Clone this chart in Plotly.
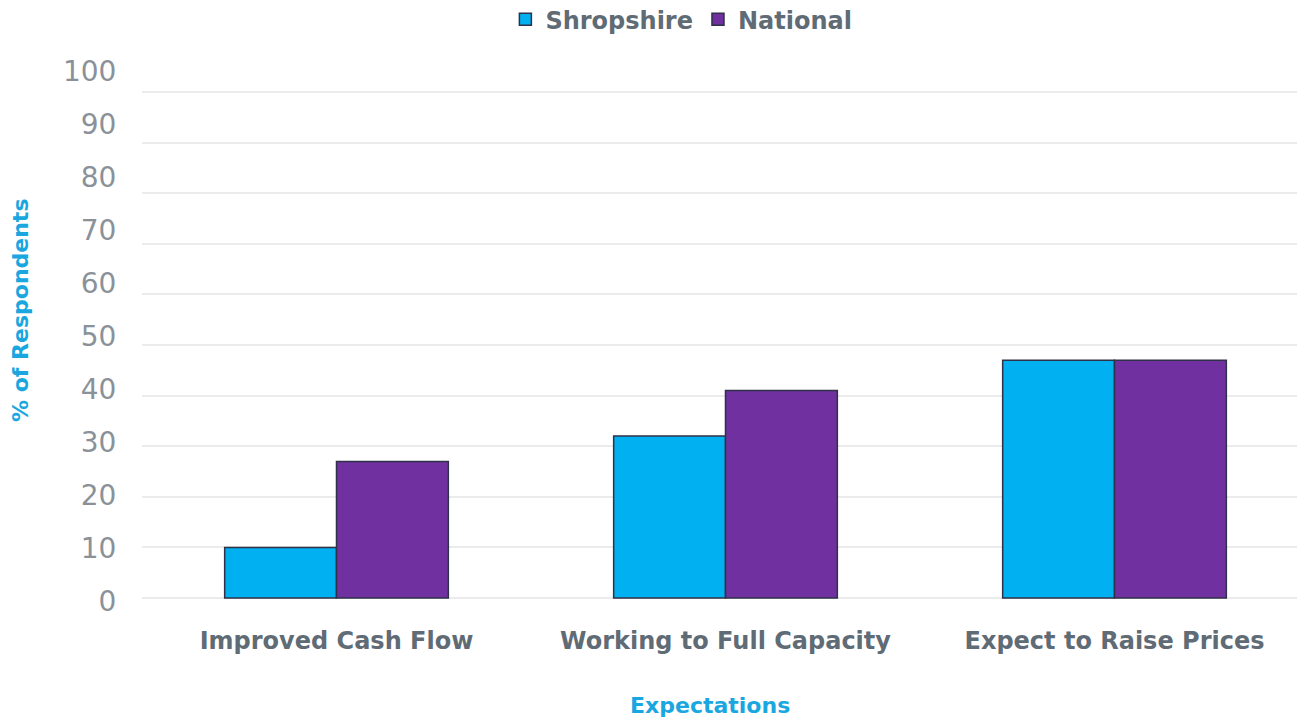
import plotly.graph_objects as go

categories = ["Improved Cash Flow", "Working to Full Capacity", "Expect to Raise Prices"]
shropshire = [10, 32, 47]
national = [27, 41, 47]
y_ticks = [0, 10, 20, 30, 40, 50, 60, 70, 80, 90, 100]

FONT = "DejaVu Sans"
fig = go.Figure()
fig.add_trace(go.Bar(name="Shropshire", x=categories, y=shropshire,
                     marker=dict(color="#00B0F0", line=dict(color="#2E3148", width=1.5))))
fig.add_trace(go.Bar(name="National", x=categories, y=national,
                     marker=dict(color="#7030A0", line=dict(color="#2E3148", width=1.5))))
# invisible trace to activate the label axis
fig.add_trace(go.Scatter(x=categories, y=[None]*3, yaxis="y2", showlegend=False,
                         hoverinfo="skip", mode="markers"))

fig.update_layout(
    width=1305, height=721,
    margin=dict(l=134, r=4, t=52, b=121),
    plot_bgcolor="white", paper_bgcolor="white",
    barmode="group", bargap=0.425, bargroupgap=0,
    font=dict(family=FONT, color="#5F6B75"),
    legend=dict(orientation="h", xref="container", yref="container",
                x=0.516, xanchor="center", y=0.984, yanchor="middle",
                font=dict(size=24, color="#5F6B75", weight=600),
                itemwidth=30, traceorder="normal"),
    xaxis=dict(showgrid=False, showline=False, zeroline=False, automargin=False,
               ticks="outside", ticklen=11, tickcolor="rgba(0,0,0,0)",
               tickfont=dict(size=24, color="#5F6B75", weight=600)),
    yaxis=dict(range=[-1.976, 106.32], tickvals=y_ticks, showticklabels=False,
               automargin=False,
               showgrid=True, gridcolor="#EBEBEB", gridwidth=1.5,
               zeroline=False, showline=False),
    yaxis2=dict(overlaying="y", side="left", range=[-1.32, 102.07], automargin=False,
                tickvals=y_ticks, showgrid=False, zeroline=False, showline=False,
                ticks="outside", ticklen=19, tickcolor="rgba(0,0,0,0)",
                tickfont=dict(size=28, color="#8A9199", weight=400)),
    annotations=[
        dict(text="% of Respondents", textangle=-90, xref="paper", yref="paper",
             x=0, y=0.542, xanchor="center", yanchor="middle", xshift=-121,
             showarrow=False, font=dict(size=22, color="#1AA7E0", weight=600)),
        dict(text="Expectations", xref="paper", yref="paper",
             x=0.4867, y=-0.1788, xanchor="center", yanchor="middle",
             showarrow=False, font=dict(size=22, color="#1AA7E0", weight=600)),
    ],
)
fig.write_html("out.html")
